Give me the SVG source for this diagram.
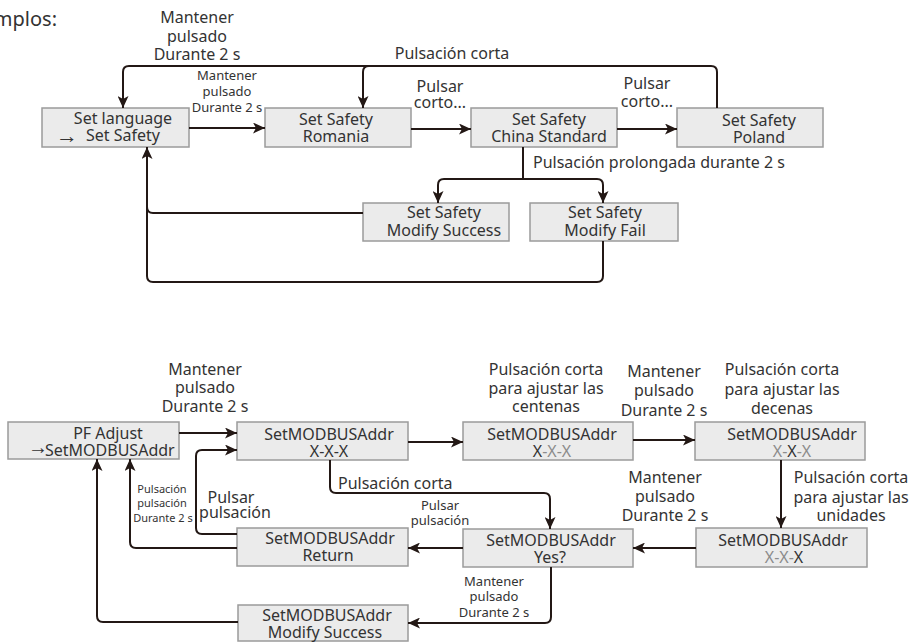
<svg xmlns="http://www.w3.org/2000/svg" width="917" height="642" viewBox="0 0 917 642">
  <defs>
    <marker id="arr" markerUnits="userSpaceOnUse" markerWidth="12" markerHeight="11" refX="12" refY="5.5" orient="auto">
      <path d="M0,0 L12,5.5 L0,11 L3,5.5 Z" fill="#231815"/>
    </marker>
    <style>
      .box rect { fill: #ebebeb; stroke: #9b9b9b; stroke-width: 1.5; }
      text { font-family: "Noto Sans", "Open Sans", sans-serif; font-size: 16px; fill: #333; }
      .m { text-anchor: middle; }
      .s { font-size: 13px; }
      .xs { font-size: 11px; }
      .g { fill: #8c8c8c; }
      .sym { font-family: "Liberation Serif", "DejaVu Serif", serif; font-size: 22px; }
      #connectors path { fill: none; stroke: #231815; stroke-width: 2; }
      .a { marker-end: url(#arr); }
    </style>
  </defs>
  <rect width="917" height="642" fill="#ffffff"/>

  <text x="57" y="26" style="font-size:20px; text-anchor:end">Ejemplos:</text>

  <!-- upper chart: safety selection -->
  <g id="set-language" class="box">
    <rect x="42" y="108" width="147" height="39"/>
    <text x="123" y="124" class="m">Set language</text>
    <text x="56" y="143" class="sym">→</text>
    <text x="86" y="141">Set Safety</text>
  </g>
  <g id="safety-romania" class="box">
    <rect x="265" y="108" width="146" height="39"/>
    <text x="336" y="125" class="m">Set Safety</text>
    <text x="336" y="142" class="m">Romania</text>
  </g>
  <g id="safety-china" class="box">
    <rect x="471" y="108" width="146" height="39"/>
    <text x="549" y="125" class="m">Set Safety</text>
    <text x="549" y="142" class="m">China Standard</text>
  </g>
  <g id="safety-poland" class="box">
    <rect x="677" y="108" width="146" height="39"/>
    <text x="759" y="126" class="m">Set Safety</text>
    <text x="759" y="143" class="m">Poland</text>
  </g>
  <g id="safety-success" class="box">
    <rect x="363" y="203" width="146" height="38"/>
    <text x="444" y="218" class="m">Set Safety</text>
    <text x="444" y="236" class="m">Modify Success</text>
  </g>
  <g id="safety-fail" class="box">
    <rect x="530" y="203" width="148" height="38"/>
    <text x="605" y="218" class="m">Set Safety</text>
    <text x="605" y="236" class="m">Modify Fail</text>
  </g>

  <!-- lower chart: MODBUS address -->
  <g id="pf-adjust" class="box">
    <rect x="8" y="422" width="171" height="37"/>
    <text x="108" y="439" class="m">PF Adjust</text>
    <text x="28" y="454" class="sym" style="font-size:20px">→</text>
    <text x="45" y="456">SetMODBUSAddr</text>
  </g>
  <g id="addr-all" class="box">
    <rect x="237" y="422" width="171" height="38"/>
    <text x="329" y="440" class="m">SetMODBUSAddr</text>
    <text x="329" y="457" class="m">X-X-X</text>
  </g>
  <g id="addr-hundreds" class="box">
    <rect x="463" y="422" width="170" height="38"/>
    <text x="552" y="440" class="m">SetMODBUSAddr</text>
    <text x="552" y="457" class="m">X<tspan class="g">-X-X</tspan></text>
  </g>
  <g id="addr-tens" class="box">
    <rect x="695" y="422" width="170" height="38"/>
    <text x="792" y="440" class="m">SetMODBUSAddr</text>
    <text x="792" y="457" class="m"><tspan class="g">X-</tspan>X<tspan class="g">-X</tspan></text>
  </g>
  <g id="addr-units" class="box">
    <rect x="696" y="528" width="171" height="39"/>
    <text x="783" y="546" class="m">SetMODBUSAddr</text>
    <text x="784" y="563" class="m"><tspan class="g">X-X-</tspan>X</text>
  </g>
  <g id="addr-yes" class="box">
    <rect x="463" y="529" width="170" height="38"/>
    <text x="551" y="546" class="m">SetMODBUSAddr</text>
    <text x="550" y="563" class="m">Yes?</text>
  </g>
  <g id="addr-return" class="box">
    <rect x="237" y="528" width="171" height="38"/>
    <text x="330" y="544" class="m">SetMODBUSAddr</text>
    <text x="328" y="561" class="m">Return</text>
  </g>
  <g id="addr-success" class="box">
    <rect x="238" y="605" width="170" height="36"/>
    <text x="327" y="621" class="m">SetMODBUSAddr</text>
    <text x="325" y="638" class="m">Modify Success</text>
  </g>

  <g id="connectors">
    <!-- upper chart -->
    <path class="a" d="M189,128 H265"/>
    <path class="a" d="M411,129 H471"/>
    <path class="a" d="M617,129 H677"/>
    <path class="a" d="M717,108 V72 Q717,66 711,66 H129 Q123,66 123,72 V108"/>
    <path class="a" d="M369,66 Q363,66 363,72 V108"/>
    <path d="M523,147 V179"/>
    <path class="a" d="M444,179 Q438,179 438,185 V203"/>
    <path class="a" d="M444,179 H597 Q603,179 603,185 V203"/>
    <path d="M363,213 H153 Q147,213 147,207"/>
    <path class="a" d="M603,241 V276 Q603,282 597,282 H153 Q147,282 147,276 V147"/>
    <!-- lower chart -->
    <path class="a" d="M179,433 H237"/>
    <path class="a" d="M237,534 H202 Q196,534 196,528 V456 Q196,450 202,450 H237"/>
    <path class="a" d="M237,548 H136 Q130,548 130,542 V459"/>
    <path class="a" d="M238,622 H103 Q97,622 97,616 V459"/>
    <path class="a" d="M408,442 H463"/>
    <path class="a" d="M633,440 H695"/>
    <path class="a" d="M781,460 V528"/>
    <path class="a" d="M696,548 H633"/>
    <path class="a" d="M463,548 H408"/>
    <path class="a" d="M551,567 V617 Q551,623 545,623 H408"/>
    <path class="a" d="M330,460 V487 Q330,493 336,493 H544 Q550,493 550,499 V529"/>
  </g>

  <g id="labels">
    <text class="m" x="197" y="23">Mantener</text>
    <text class="m" x="197" y="41.5">pulsado</text>
    <text class="m" x="197" y="60">Durante 2 s</text>

    <text class="m s" x="227" y="80">Mantener</text>
    <text class="m s" x="227" y="96">pulsado</text>
    <text class="m s" x="227" y="112">Durante 2 s</text>

    <text class="m" x="452" y="59">Pulsación corta</text>

    <text class="m" x="440" y="92">Pulsar</text>
    <text class="m" x="440" y="108">corto...</text>
    <text class="m" x="647" y="89">Pulsar</text>
    <text class="m" x="647" y="107">corto...</text>

    <text x="533" y="168">Pulsación prolongada durante 2 s</text>

    <text class="m" x="205" y="375">Mantener</text>
    <text class="m" x="205" y="393">pulsado</text>
    <text class="m" x="205" y="412">Durante 2 s</text>

    <text class="m" x="546" y="375">Pulsación corta</text>
    <text class="m" x="546" y="394">para ajustar las</text>
    <text class="m" x="546" y="412">centenas</text>

    <text class="m" x="664" y="377">Mantener</text>
    <text class="m" x="664" y="396">pulsado</text>
    <text class="m" x="664" y="416">Durante 2 s</text>

    <text class="m" x="782" y="375">Pulsación corta</text>
    <text class="m" x="782" y="395">para ajustar las</text>
    <text class="m" x="782" y="414">decenas</text>

    <text class="m" x="851" y="483">Pulsación corta</text>
    <text class="m" x="851" y="503">para ajustar las</text>
    <text class="m" x="851" y="521">unidades</text>

    <text class="m" x="665" y="483">Mantener</text>
    <text class="m" x="665" y="502">pulsado</text>
    <text class="m" x="665" y="521">Durante 2 s</text>

    <text x="338" y="489">Pulsación corta</text>

    <text class="m s" x="440" y="510">Pulsar</text>
    <text class="m s" x="440" y="525">pulsación</text>

    <text class="m" x="231" y="503">Pulsar</text>
    <text class="m" x="235" y="518">pulsación</text>

    <text class="m xs" x="162" y="493">Pulsación</text>
    <text class="m xs" x="162" y="507">pulsación</text>
    <text class="m xs" x="163" y="522">Durante 2 s</text>

    <text class="m s" x="494" y="586">Mantener</text>
    <text class="m s" x="494" y="601">pulsado</text>
    <text class="m s" x="494" y="617">Durante 2 s</text>
  </g>
</svg>
